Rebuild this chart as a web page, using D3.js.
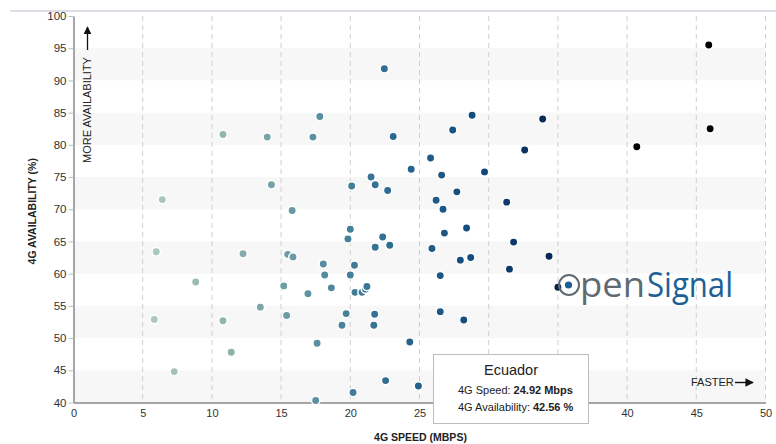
<!DOCTYPE html>
<html>
<head>
<meta charset="utf-8">
<script src="https://cdn.jsdelivr.net/npm/d3@7"></script>
<style>
  html, body { margin: 0; padding: 0; background: #fff; }
  svg { display: block; font-family: "Liberation Sans", Arial, sans-serif; }
</style>
</head>
<body>
<svg id="chart" width="776" height="444"></svg>
<script>
// ---- data ----
const speeds = [10.8, 6.42, 5.98, 8.83, 5.84, 10.8, 11.4, 7.28, 12.25, 13.5,
  14.0, 17.8, 17.3, 14.3, 15.8, 22.46, 23.1, 20.1, 21.5, 21.8,
  22.7, 24.4, 25.8, 26.6, 27.4, 28.8, 27.7, 26.2, 26.7, 29.7,
  31.3, 33.9, 32.6, 40.7, 45.9, 46.0, 15.48, 15.86, 18.05, 18.15,
  15.19, 16.94, 18.63, 15.4, 17.6, 17.5, 20.0, 19.83, 22.34, 21.8,
  22.85, 20.3, 20.0, 20.34, 20.85, 21.1, 21.2, 19.7, 21.76, 19.4,
  21.7, 24.3, 22.55, 24.92, 20.2, 25.9, 26.8, 28.4, 27.95, 28.7,
  26.5, 31.8, 31.5, 26.5, 28.2, 34.36, 35.0];
const availability = [81.6, 71.5, 63.4, 58.7, 52.9, 52.7, 47.8, 44.8, 63.1, 54.8,
  81.2, 84.4, 81.2, 73.8, 69.8, 91.8, 81.3, 73.6, 75.0, 73.8,
  72.9, 76.2, 77.95, 75.3, 82.3, 84.6, 72.7, 71.4, 70.0, 75.8,
  71.1, 84.0, 79.2, 79.7, 95.5, 82.5, 63.0, 62.6, 61.5, 59.8,
  58.1, 56.9, 57.8, 53.5, 49.2, 40.3, 66.9, 65.4, 65.7, 64.1,
  64.4, 61.3, 59.8, 57.1, 57.1, 57.6, 58.0, 53.8, 53.7, 52.0,
  52.0, 49.4, 43.4, 42.56, 41.55, 63.9, 66.3, 67.1, 62.1, 62.5,
  59.7, 64.9, 60.7, 54.1, 52.8, 62.7, 57.9];
const xTicks = [0, 5, 10, 15, 20, 25, 30, 35, 40, 45, 50];
const yTicks = [40, 45, 50, 55, 60, 65, 70, 75, 80, 85, 90, 95, 100];
const bandStarts = [40, 50, 60, 70, 80, 90];
const tooltipCountry = "Ecuador";
const tooltipSpeed = 24.92;
const tooltipAvail = 42.56;

const points = speeds.map((s, i) => ({ speed: s, avail: availability[i] }));

// ---- layout ----
const svg = d3.select("#chart");
const x = d3.scaleLinear().domain([0, 50]).range([73.5, 765.5]);
const y = d3.scaleLinear().domain([40, 100]).range([402.5, 16]);
const color = d3.scaleLinear()
  .domain([5, 11, 17, 23, 29, 34, 40])
  .range(["#aecbbe", "#90b4ae", "#5e93a2", "#2c6a91", "#114a7e", "#0a2a55", "#000000"])
  .clamp(true);

// tooltip box geometry (tooltip covers part of the x axis labels)
const tipBox = { x: 433.5, y: 354.5, w: 155, h: 69 };

// top border line
svg.append("line").attr("x1", 10).attr("x2", 776).attr("y1", 11).attr("y2", 11)
  .attr("stroke", "#d3d3db").attr("stroke-width", 1.5);

// bands
svg.append("g").selectAll("rect").data(bandStarts).join("rect")
  .attr("x", x(0) + 1).attr("width", x(50) - x(0) - 1)
  .attr("y", d => y(d + 5)).attr("height", d => y(d) - y(d + 5))
  .attr("fill", "#f7f7f7");

// vertical dashed grid
svg.append("g").selectAll("line").data(xTicks.filter(d => d > 0)).join("line")
  .attr("x1", d => x(d)).attr("x2", d => x(d))
  .attr("y1", y(100)).attr("y2", y(40))
  .attr("stroke", "#cfcfcf").attr("stroke-dasharray", "5,4").attr("stroke-width", 1);

// axes
const xAxis = d3.axisBottom(x).tickValues(xTicks).tickSize(0).tickSizeOuter(0).tickPadding(7);
const gx = svg.append("g").attr("transform", `translate(0,${y(40)})`).call(xAxis);
gx.select(".domain").attr("stroke", "#888").attr("stroke-width", 1.5);
gx.selectAll("text").attr("font-size", 11).attr("fill", "#333")
  .attr("font-family", "'Liberation Sans', Arial, sans-serif");
// labels hidden beneath the tooltip are not drawn
gx.selectAll(".tick").filter(d => x(d) > tipBox.x - 6 && x(d) < tipBox.x + tipBox.w + 6).remove();

const yAxis = d3.axisLeft(y).tickValues(yTicks).tickSize(5).tickSizeOuter(0).tickPadding(2);
const gy = svg.append("g").attr("transform", `translate(${x(0)},0)`).call(yAxis);
gy.select(".domain").attr("stroke", "#888").attr("stroke-width", 1.5);
gy.selectAll(".tick line").attr("stroke", "#bbb");
gy.selectAll("text").attr("font-size", 11.5).attr("fill", "#333")
  .attr("font-family", "'Liberation Sans', Arial, sans-serif");

// axis titles
svg.append("text").attr("x", (x(0) + x(50)) / 2 + 1).attr("y", 441)
  .attr("text-anchor", "middle").attr("font-size", 10.5).attr("font-weight", "bold")
  .attr("fill", "#222").text("4G SPEED (MBPS)");
svg.append("text").attr("transform", `translate(36,${(y(40) + y(100)) / 2 + 2}) rotate(-90)`)
  .attr("text-anchor", "middle").attr("font-size", 10.5).attr("font-weight", "bold")
  .attr("fill", "#222").text("4G AVAILABILITY (%)");

// annotations
svg.append("defs").append("marker").attr("id", "arr").attr("viewBox", "0 0 10 10")
  .attr("refX", 9).attr("refY", 5).attr("markerWidth", 6).attr("markerHeight", 6)
  .attr("orient", "auto").append("path").attr("d", "M0,0 L10,5 L0,10 Z").attr("fill", "#111");

svg.append("text").attr("transform", "translate(91,163) rotate(-90)")
  .attr("font-size", 11).attr("fill", "#222").text("MORE AVAILABILITY");
svg.append("line").attr("x1", 87.5).attr("x2", 87.5).attr("y1", 50).attr("y2", 27)
  .attr("stroke", "#111").attr("stroke-width", 1.3).attr("marker-end", "url(#arr)");

svg.append("text").attr("x", 691).attr("y", 386).attr("font-size", 11).attr("fill", "#222").text("FASTER");
svg.append("line").attr("x1", 735).attr("x2", 753).attr("y1", 382.5).attr("y2", 382.5)
  .attr("stroke", "#111").attr("stroke-width", 1.4).attr("marker-end", "url(#arr)");

// points
svg.append("g").selectAll("circle").data(points).join("circle")
  .attr("cx", d => x(d.speed)).attr("cy", d => y(d.avail)).attr("r", 4.2)
  .attr("fill", d => color(d.speed)).attr("stroke", "#fff").attr("stroke-width", 1.5);

// logo
const logo = svg.append("g");
logo.append("circle").attr("cx", 569).attr("cy", 285).attr("r", 10)
  .attr("fill", "none").attr("stroke", "#5f6a72").attr("stroke-width", 2);
logo.append("circle").attr("cx", 568.5).attr("cy", 285).attr("r", 3.6).attr("fill", "#1b5f94");
logo.append("text").attr("x", 580).attr("y", 297).attr("font-family", "'Open Sans', sans-serif")
  .attr("font-size", 34).attr("fill", "#5f6a72").attr("textLength", 65).attr("lengthAdjust", "spacingAndGlyphs")
  .text("pen");
logo.append("text").attr("x", 647).attr("y", 297).attr("font-family", "'Open Sans', sans-serif")
  .attr("font-size", 34).attr("fill", "#1b6197").attr("textLength", 86).attr("lengthAdjust", "spacingAndGlyphs")
  .text("Signal");

// tooltip
const tip = svg.append("g");
tip.append("rect").attr("x", tipBox.x).attr("y", tipBox.y).attr("width", tipBox.w).attr("height", tipBox.h)
  .attr("fill", "#fff").attr("stroke", "#bdbdbd").attr("stroke-width", 1);
tip.append("text").attr("x", tipBox.x + tipBox.w / 2).attr("y", 375).attr("text-anchor", "middle")
  .attr("font-size", 14.5).attr("fill", "#222").text(tooltipCountry);

function tipLine(label, value, yy) {
  const a = tip.append("text").attr("x", 458).attr("y", yy).attr("font-size", 11)
    .attr("fill", "#222").text(label);
  const w = a.node().getComputedTextLength();
  tip.append("text").attr("x", 458 + w + 3).attr("y", yy).attr("font-size", 11)
    .attr("font-weight", "bold").attr("fill", "#222").text(value);
}
tipLine("4G Speed:", `${tooltipSpeed.toFixed(2)} Mbps`, 394);
tipLine("4G Availability:", `${tooltipAvail.toFixed(2)} %`, 411);
</script>
</body>
</html>
